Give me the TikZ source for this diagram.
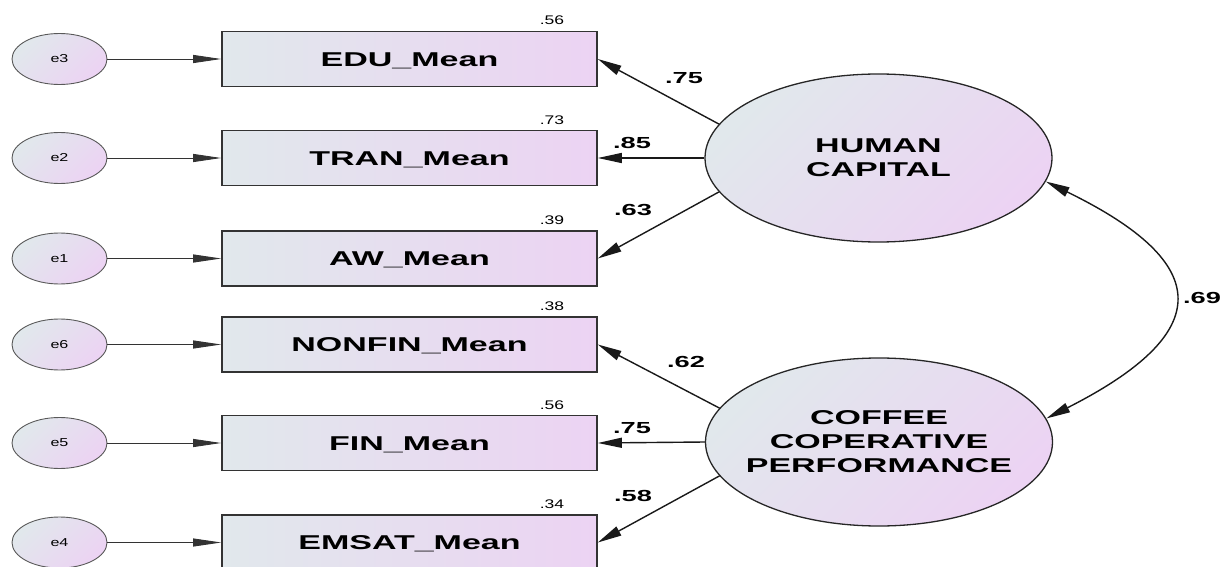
\documentclass[tikz,border=0pt]{standalone}
\usepackage{fontspec}
\setmainfont{Liberation Sans}
\usetikzlibrary{shapes.geometric,arrows.meta}
\definecolor{gA}{HTML}{E1E8EC}
\definecolor{gB}{HTML}{ECD3F3}
\definecolor{edgegray}{HTML}{333333}
\newcommand\sx[1]{\scalebox{1.7}[1]{#1}}
\newcommand\sxs[1]{\scalebox{1.4}[1]{#1}}
\begin{document}
\begin{tikzpicture}[x=1pt,y=-1pt,
  obsbox/.style={draw=edgegray,line width=1.6pt,rectangle,minimum width=375pt,minimum height=55pt,inner sep=0pt,
    text height=14.3pt,text depth=0pt,
    left color=gA,right color=gB,font=\fontsize{20}{24}\selectfont\bfseries},
  errell/.style={draw=black!65,line width=0.9pt,ellipse,minimum width=95pt,minimum height=51pt,inner sep=0pt,
    top color=gA,bottom color=gB,shading angle=45,font=\fontsize{11.5}{13}\selectfont},
  latell/.style={draw=black!85,line width=1.3pt,ellipse,minimum width=347pt,minimum height=168pt,inner sep=0pt,
    top color=gA,bottom color=gB,shading angle=45},
  lattext/.style={align=center,inner sep=0pt,font=\fontsize{20}{24}\selectfont\bfseries},
  errarr/.style={draw=black!80,line width=0.9pt,-{Triangle[length=28pt,width=8pt]}},
  latarr/.style={draw=black!90,line width=1.4pt,-{Triangle[length=24pt,width=10pt]}},
  covarr/.style={draw=black!90,line width=1.4pt,{Triangle[length=24pt,width=10pt]}-{Triangle[length=24pt,width=10pt]}},
  coef/.style={font=\fontsize{16}{18}\selectfont\bfseries,inner sep=0pt},
  rsq/.style={font=\fontsize{12.5}{14}\selectfont,inner sep=0pt}
]
\useasboundingbox (0,0) rectangle (1224,567);
\clip (0,0) rectangle (1224,567);

% observed boxes
\node[obsbox] (EDU) at (409.5,59) {\sx{EDU\_Mean}};
\node[obsbox] (TRAN) at (409.5,158) {\sx{TRAN\_Mean}};
\node[obsbox] (AW) at (409.5,258.5) {\sx{AW\_Mean}};
\node[obsbox] (NONFIN) at (409.5,344.5) {\sx{NONFIN\_Mean}};
\node[obsbox] (FIN) at (409.5,443) {\sx{FIN\_Mean}};
\node[obsbox] (EMSAT) at (409.5,542.5) {\sx{EMSAT\_Mean}};

% R squared
\node[rsq] (r1) at (552,20) {\sxs{.56}};
\node[rsq] (r2) at (552,120) {\sxs{.73}};
\node[rsq] (r3) at (552,220) {\sxs{.39}};
\node[rsq] (r4) at (552,306) {\sxs{.38}};
\node[rsq] (r5) at (552,405) {\sxs{.56}};
\node[rsq] (r6) at (552,504) {\sxs{.34}};

% error terms
\node[errell] (e3) at (59.5,59) {\sxs{e3}};
\node[errell] (e2) at (59.5,158) {\sxs{e2}};
\node[errell] (e1) at (59.5,258.5) {\sxs{e1}};
\node[errell] (e6) at (59.5,344.5) {\sxs{e6}};
\node[errell] (e5) at (59.5,443) {\sxs{e5}};
\node[errell] (e4) at (59.5,542.5) {\sxs{e4}};

\draw[errarr] (e3) -- (EDU);
\draw[errarr] (e2) -- (TRAN);
\draw[errarr] (e1) -- (AW);
\draw[errarr] (e6) -- (NONFIN);
\draw[errarr] (e5) -- (FIN);
\draw[errarr] (e4) -- (EMSAT);

% latent variables
\node[latell] (HC) at (878.5,158) {};
\node[lattext] (HCt) at (HC.center) {\sx{HUMAN}\\\sx{CAPITAL}};
\node[latell] (CCP) at (879,442) {};
\node[lattext] (CCPt) at (CCP.center) {\sx{COFFEE}\\\sx{COPERATIVE}\\\sx{PERFORMANCE}};

\draw[latarr] (HC.168) -- (EDU.east);
\draw[latarr] (HC.west) -- (TRAN.east);
\draw[latarr] (HC.192) -- (AW.east);
\draw[latarr] (CCP.168) -- (NONFIN.east);
\draw[latarr] (CCP.west) -- (FIN.east);
\draw[latarr] (CCP.192) -- (EMSAT.east);

\draw[covarr] (HC.-8) .. controls (1215,264) and (1215,333) .. (CCP.8);

% coefficients
\node[coef] (c1) at (684,78) {\sx{.75}};
\node[coef] (c2) at (632,143) {\sx{.85}};
\node[coef] (c3) at (633,210) {\sx{.63}};
\node[coef] (c4) at (686,362) {\sx{.62}};
\node[coef] (c5) at (632,428) {\sx{.75}};
\node[coef] (c6) at (633,496) {\sx{.58}};
\node[coef] (c7) at (1202,298) {\sx{.69}};
\end{tikzpicture}
\end{document}
